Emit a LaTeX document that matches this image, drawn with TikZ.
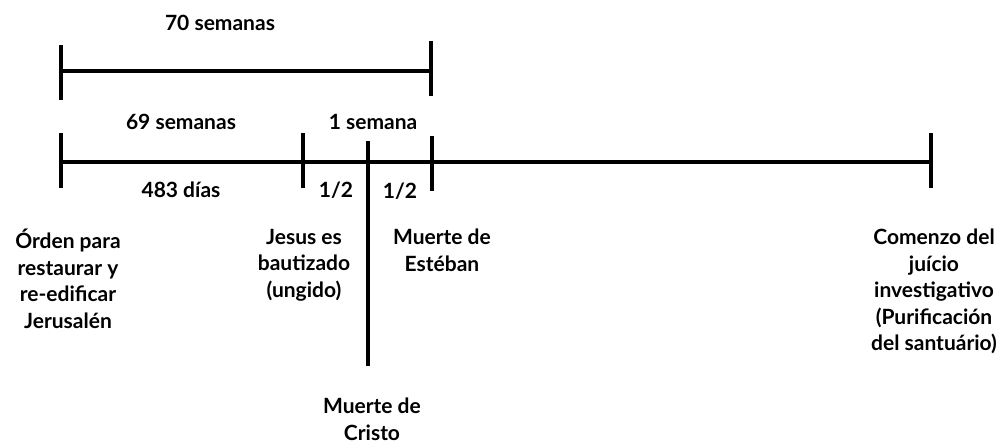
\documentclass[tikz,border=0pt]{standalone}
\usepackage{fontspec}
\setmainfont{Lato}
\usetikzlibrary{positioning}

\begin{document}
\begin{tikzpicture}[x=1pt,y=-1pt,
    every node/.style={font=\fontsize{21}{26.5}\selectfont\bfseries, inner sep=0pt},
    axis/.style={line width=3.5pt},
    tick/.style={line width=4pt},
    event/.style={anchor=north, align=center}]
  \useasboundingbox (0,0) rectangle (1007,444);

  % linea de 70 semanas
  \coordinate (a0) at (61,71);
  \coordinate (a1) at (431,71);
  \draw[axis] (a0) -- (a1);
  \draw[tick] (61,45) -- (61,100);
  \draw[tick] (431,41) -- (431,96);
  \node (setenta) at (220,23) {70 semanas};

  % linea principal
  \coordinate (b0) at (61,162);
  \coordinate (b4) at (931,162);
  \draw[axis] (b0) -- (b4);
  \draw[tick] (61,133) -- (61,188);
  \draw[tick] (303,133) -- (303,188);
  \draw[tick] (368,141) -- (368,366);
  \draw[tick] (432,136) -- (432,191);
  \draw[tick] (931,133) -- (931,188);

  % textos sobre y bajo la linea
  \node (sesentanueve) at (181,122) {69 semanas};
  \node (una) at (373,122) {1 semana};
  \node (dias) at (181,190) {483 días};
  \node (mitad1) at (336,190) {1/2};
  \node (mitad2) at (400,191) {1/2};

  % eventos
  \node[event] (orden) at (68,229) {Órden para\\restaurar y\\re-edificar\\Jerusalén};
  \node[event] (jesus) at (304,229) {Jesus es\\bautizado\\(ungido)};
  \node[event] (esteban) at (442,229) {Muerte de\\Estéban};
  \node[event] (cristo) at (372,398) {Muerte de\\Cristo};
  \node[event] (juicio) at (934,229) {Comenzo del\\juício\\investigativo\\(Purificación\\del santuário)};
\end{tikzpicture}
\end{document}
